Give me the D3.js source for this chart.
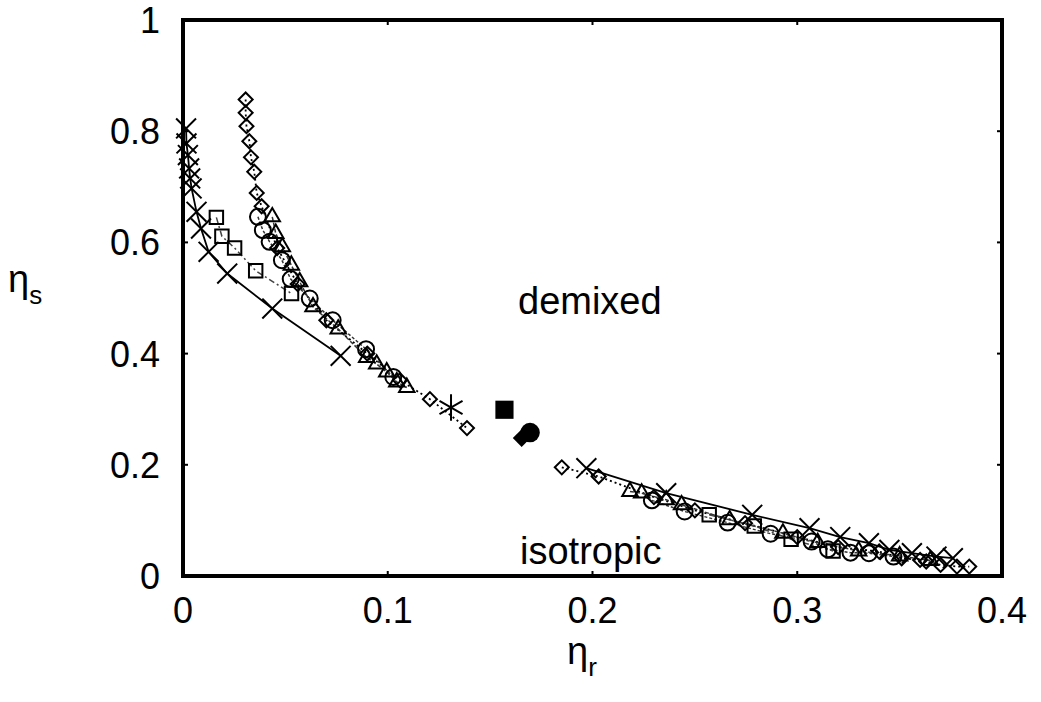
<!DOCTYPE html>
<html><head><meta charset="utf-8">
<script src="https://cdn.jsdelivr.net/npm/d3@7"></script>
<style>body{margin:0;background:#fff}text{font-family:"Liberation Sans",Arial,sans-serif}</style>
</head><body><svg id="c" width="1041" height="702"></svg>
<script>
// Tick labels
const xTicks = [0, 0.1, 0.2, 0.3, 0.4];
const yTicks = [0, 0.2, 0.4, 0.6, 0.8, 1];
const xTickLabels = ["0", "0.1", "0.2", "0.3", "0.4"];
const yTickLabels = ["0", "0.2", "0.4", "0.6", "0.8", "1"];

// Crosses (solid line)
const crossL_x = [0.0015,0.0017,0.0024,0.003,0.0035,0.0042,0.0066,0.0088,0.0125,0.0216,0.0436,0.0770];
const crossL_y = [0.805,0.778,0.757,0.733,0.715,0.697,0.655,0.625,0.583,0.544,0.481,0.396];
const crossR_x = [0.197,0.236,0.278,0.306,0.321,0.335,0.345,0.356,0.368,0.376];
const crossR_y = [0.194,0.149,0.110,0.086,0.070,0.059,0.047,0.041,0.035,0.032];

// Diamonds (dotted line)
const diamL_x = [0.0306,0.0306,0.031,0.0324,0.0332,0.0348,0.036,0.0384,0.046,0.056,0.070,0.090,0.106,0.1206,0.1387];
const diamL_y = [0.857,0.833,0.809,0.782,0.753,0.727,0.689,0.665,0.59,0.525,0.46,0.40,0.352,0.318,0.266];
const diamR_x = [0.185,0.203,0.23,0.25,0.2745,0.30,0.320,0.340,0.351,0.360,0.363,0.370,0.378,0.384];
const diamR_y = [0.1955,0.179,0.142,0.118,0.095,0.070,0.052,0.044,0.032,0.029,0.026,0.020,0.017,0.017];

// Circles
const circL_x = [0.0366,0.039,0.0423,0.0483,0.0526,0.0619,0.0731,0.0894,0.1027];
const circL_y = [0.646,0.622,0.601,0.568,0.534,0.499,0.460,0.408,0.358];
const circR_x = [0.229,0.245,0.266,0.287,0.307,0.315,0.326,0.335,0.347];
const circR_y = [0.136,0.116,0.096,0.076,0.062,0.048,0.042,0.041,0.035];

// Triangles
const triL_x = [0.0436,0.0453,0.0485,0.0529,0.057,0.0635,0.0758,0.0897,0.0946,0.0995,0.1044,0.1093];
const triL_y = [0.646,0.616,0.592,0.559,0.529,0.484,0.444,0.393,0.381,0.367,0.349,0.339];
const triR_x = [0.2183,0.224,0.236,0.2435,0.267,0.293,0.31,0.33,0.35,0.365];
const triR_y = [0.152,0.149,0.137,0.128,0.101,0.077,0.060,0.045,0.036,0.028];

// Squares (dash-dot line)
const sqL_x = [0.0163,0.019,0.0252,0.0355,0.053];
const sqL_y = [0.645,0.611,0.590,0.549,0.508];
const sqR_x = [0.257,0.279,0.297,0.3175];
const sqR_y = [0.110,0.090,0.066,0.045];

// Single points
const star_x = [0.1309], star_y = [0.303];
const fsq_x = [0.157], fsq_y = [0.299];
const fcirc_x = [0.1695], fcirc_y = [0.258];
const fdiam_x = [0.1654], fdiam_y = [0.248];

const svg = d3.select("#c");
const L = 183, R = 1002, T = 20, B = 576;
const x = d3.scaleLinear().domain([0, 0.4]).range([L, R]);
const y = d3.scaleLinear().domain([0, 1]).range([B, T]);
const FS = 36;

const zip = (xs, ys) => xs.map((v, i) => [v, ys[i]]);
const line = d3.line().x(d => x(d[0])).y(d => y(d[1]));
const plot = svg.append("g");

function drawLine(pts, dash, w, col) {
  plot.append("path").attr("d", line(pts)).attr("fill", "none")
    .attr("stroke", col || "#000").attr("stroke-width", w)
    .attr("stroke-dasharray", dash);
}
const sym = {
  cross: d3.symbol().type(d3.symbolX).size(260),
  circle: d3.symbol().type(d3.symbolCircle).size(200),
  tri: d3.symbol().type(d3.symbolTriangle2).size(170),
  square: d3.symbol().type(d3.symbolSquare2).size(230),
  diamond: d3.symbol().type(d3.symbolSquare2).size(125),
  star: d3.symbol().type(d3.symbolAsterisk).size(500)
};
function drawMarks(pts, kind, filled, size) {
  plot.selectAll(null).data(pts).enter().append("path")
    .attr("d", size ? d3.symbol().type(sym[kind].type()).size(size)() : sym[kind]())
    .attr("transform", d => `translate(${x(d[0])},${y(d[1])})` + (kind === "diamond" ? " rotate(45)" : ""))
    .attr("fill", filled ? "#000" : "none")
    .attr("stroke", "#000").attr("stroke-width", filled ? 0 : 2);
}

// lines
drawLine(zip(crossL_x, crossL_y), null, 1.8);
drawLine(zip(crossR_x, crossR_y), null, 1.8);
drawLine(zip(diamL_x, diamL_y), "2,3", 1.8);
drawLine(zip(diamR_x, diamR_y), "2,3", 1.8);
drawLine(zip(circL_x, circL_y), "3,2", 1.5, "#333");
drawLine(zip(circR_x, circR_y), "3,2", 1.5, "#333");
drawLine(zip(triL_x, triL_y), "4,2", 1.5, "#333");
drawLine(zip(triR_x, triR_y), "4,2", 1.5, "#333");
drawLine(zip(sqL_x, sqL_y), "6,3,2,3", 1.5, "#444");
drawLine(zip(sqR_x, sqR_y), "6,3,2,3", 1.5, "#444");

// markers
drawMarks(zip(crossL_x, crossL_y), "cross");
drawMarks(zip(crossR_x, crossR_y), "cross");
drawMarks(zip(diamL_x, diamL_y), "diamond");
drawMarks(zip(diamR_x, diamR_y), "diamond");
drawMarks(zip(circL_x, circL_y), "circle");
drawMarks(zip(circR_x, circR_y), "circle");
drawMarks(zip(triL_x, triL_y), "tri");
drawMarks(zip(triR_x, triR_y), "tri");
drawMarks(zip(sqL_x, sqL_y), "square");
drawMarks(zip(sqR_x, sqR_y), "square");
drawMarks(zip(star_x, star_y), "star");
drawMarks(zip(fsq_x, fsq_y), "square", true, 420);
drawMarks(zip(fcirc_x, fcirc_y), "circle", true, 300);
drawMarks(zip(fdiam_x, fdiam_y), "diamond", true, 200);

// ticks (inward, mirrored)
const tk = svg.append("g").attr("stroke", "#000").attr("stroke-width", 2);
xTicks.forEach(t => {
  tk.append("line").attr("x1", x(t)).attr("x2", x(t)).attr("y1", B).attr("y2", B - 5);
  tk.append("line").attr("x1", x(t)).attr("x2", x(t)).attr("y1", T).attr("y2", T + 5);
});
yTicks.forEach(t => {
  tk.append("line").attr("x1", L).attr("x2", L + 5).attr("y1", y(t)).attr("y2", y(t));
  tk.append("line").attr("x1", R).attr("x2", R - 5).attr("y1", y(t)).attr("y2", y(t));
});

// frame
svg.append("rect").attr("x", L).attr("y", T).attr("width", R - L).attr("height", B - T)
  .attr("fill", "none").attr("stroke", "#000").attr("stroke-width", 4);

// tick labels
svg.append("g").selectAll("text").data(xTicks).enter().append("text")
  .attr("x", d => x(d)).attr("y", 623).attr("text-anchor", "middle")
  .attr("font-size", FS).text((d, i) => xTickLabels[i]);
svg.append("g").selectAll("text").data(yTicks).enter().append("text")
  .attr("x", 160).attr("y", d => y(d) + 13).attr("text-anchor", "end")
  .attr("font-size", FS).text((d, i) => yTickLabels[i]);

// axis labels
const xl = svg.append("text").attr("x", 567).attr("y", 664).attr("font-size", FS + 2);
xl.append("tspan").text("η");
xl.append("tspan").attr("font-size", 26).attr("dy", 12).text("r");
const yl = svg.append("text").attr("x", 8).attr("y", 292).attr("font-size", FS + 2);
yl.append("tspan").text("η");
yl.append("tspan").attr("font-size", 26).attr("dy", 12).text("s");

// annotations
svg.append("text").attr("x", 518).attr("y", 314).attr("font-size", 38).text("demixed");
svg.append("text").attr("x", 520).attr("y", 564).attr("font-size", 38).text("isotropic");
</script></body></html>
